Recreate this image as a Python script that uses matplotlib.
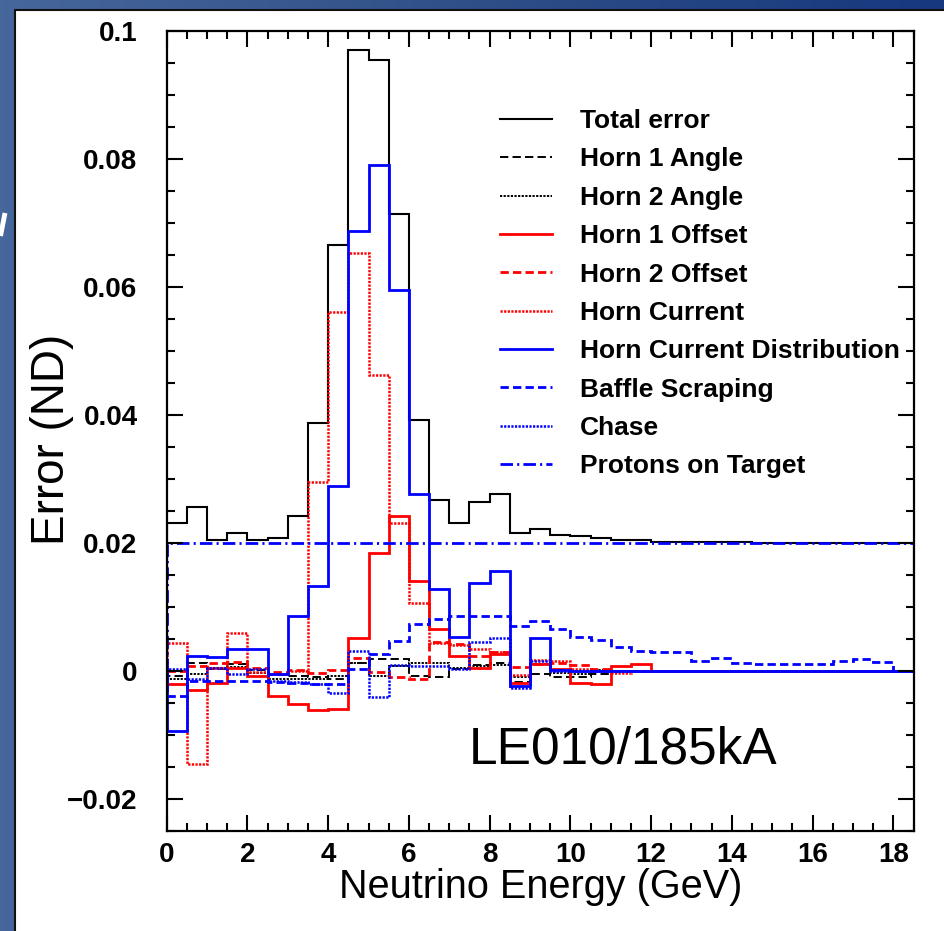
import numpy as np
import matplotlib
matplotlib.use('Agg')
import matplotlib.pyplot as plt
from matplotlib.ticker import MultipleLocator, FixedLocator, FixedFormatter
from matplotlib.colors import LinearSegmentedColormap

plt.rcParams['font.family'] = ['Liberation Sans', 'DejaVu Sans']
plt.rcParams['lines.scale_dashes'] = False

# 0.5 GeV bins, 0 - 18.5 GeV
bin_edges = np.arange(0, 18.51, 0.5)

total_error = [0.0231, 0.0257, 0.0205, 0.0215, 0.0205, 0.0208, 0.0242, 0.0388, 0.0666, 0.0970,
               0.0954, 0.0714, 0.0392, 0.0267, 0.0231, 0.0264, 0.0276, 0.0216, 0.0222, 0.0213,
               0.0211, 0.0208, 0.0204, 0.0204, 0.0201, 0.0201, 0.0201, 0.0201, 0.0201, 0.0200,
               0.0200, 0.0200, 0.0200, 0.0200, 0.0200, 0.0200, 0.0200]
horn1_angle = [-0.0008, 0.0013, 0.0003, 0.0011, 0.0002, -0.0006, -0.0008, -0.0010, -0.0012, 0.0012,
               0.0019, 0.0019, -0.0008, -0.0010, 0.0003, 0.0009, 0.0013, -0.0017, -0.0005, -0.0010,
               -0.0010, -0.0004, 0.0, 0.0, 0.0, 0.0, 0.0, 0.0, 0.0, 0.0,
               0.0, 0.0, 0.0, 0.0, 0.0, 0.0, 0.0]
horn2_angle = [-0.0012, -0.0005, 0.0004, 0.0006, -0.0003, -0.0012, -0.0013, -0.0012, -0.0008, 0.0013,
               -0.0008, 0.0008, 0.0013, 0.0012, 0.0004, 0.0008, 0.0010, -0.0010, 0.0011, -0.0003,
               -0.0005, 0.0002, 0.0, 0.0, 0.0, 0.0, 0.0, 0.0, 0.0, 0.0,
               0.0, 0.0, 0.0, 0.0, 0.0, 0.0, 0.0]
horn1_offset = [-0.0020, -0.0029, -0.0018, 0.0004, -0.0008, -0.0039, -0.0052, -0.0061, -0.0059, 0.0052,
                0.0184, 0.0242, 0.0141, 0.0066, 0.0024, 0.0004, 0.0027, -0.0018, 0.0011, 0.0003,
                -0.0018, -0.0020, 0.0008, 0.0011, 0.0, 0.0, 0.0, 0.0, 0.0, 0.0,
                0.0, 0.0, 0.0, 0.0, 0.0, 0.0, 0.0]
horn2_offset = [0.0000, 0.0008, 0.0012, 0.0014, 0.0004, -0.0002, 0.0002, -0.0003, 0.0001, 0.0021,
                -0.0001, -0.0010, -0.0013, 0.0045, 0.0042, 0.0024, 0.0029, 0.0006, 0.0011, 0.0013,
                0.0009, 0.0003, 0.0, 0.0, 0.0, 0.0, 0.0, 0.0, 0.0, 0.0,
                0.0, 0.0, 0.0, 0.0, 0.0, 0.0, 0.0]
horn_current = [0.0043, -0.0146, 0.0005, 0.0059, -0.0001, -0.0005, 0.0000, 0.0295, 0.0561, 0.0653,
                0.0462, 0.0231, 0.0107, 0.0043, 0.0040, 0.0034, 0.0030, -0.0006, 0.0017, 0.0015,
                0.0003, 0.0000, -0.0003, 0.0, 0.0, 0.0, 0.0, 0.0, 0.0, 0.0,
                0.0, 0.0, 0.0, 0.0, 0.0, 0.0, 0.0]
horn_current_dist = [-0.0093, 0.0024, 0.0022, 0.0035, 0.0035, -0.0005, 0.0086, 0.0133, 0.0289, 0.0688,
                     0.0791, 0.0595, 0.0277, 0.0128, 0.0053, 0.0137, 0.0157, -0.0024, 0.0051, 0.0001,
                     0.0, 0.0, 0.0, 0.0, 0.0, 0.0, 0.0, 0.0, 0.0, 0.0,
                     0.0, 0.0, 0.0, 0.0, 0.0, 0.0, 0.0]
baffle_scraping = [-0.0039, -0.0015, -0.0015, -0.0016, -0.0016, -0.0017, -0.0018, -0.0020, -0.0020, 0.0003,
                   0.0026, 0.0047, 0.0073, 0.0082, 0.0086, 0.0086, 0.0086, 0.0070, 0.0078, 0.0066,
                   0.0053, 0.0048, 0.0037, 0.0031, 0.0029, 0.0029, 0.0016, 0.0020, 0.0013, 0.0011,
                   0.0011, 0.0011, 0.0011, 0.0015, 0.0018, 0.0014, 0.0]
chase = [0.0003, -0.0012, 0.0004, -0.0005, 0.0003, -0.0016, -0.0017, -0.0021, -0.0035, 0.0031,
         -0.0041, 0.0010, 0.0008, 0.0008, 0.0003, 0.0045, 0.0051, -0.0026, 0.0016, 0.0000,
         0.0, 0.0, 0.0, 0.0, 0.0, 0.0, 0.0, 0.0, 0.0, 0.0,
         0.0, 0.0, 0.0, 0.0, 0.0, 0.0, 0.0]
protons_on_target = [0.02, 0.02, 0.02, 0.02, 0.02, 0.02, 0.02, 0.02, 0.02, 0.02,
                     0.02, 0.02, 0.02, 0.02, 0.02, 0.02, 0.02, 0.02, 0.02, 0.02,
                     0.02, 0.02, 0.02, 0.02, 0.02, 0.02, 0.02, 0.02, 0.02, 0.02,
                     0.02, 0.02, 0.02, 0.02, 0.02, 0.02, 0.02]

ytick_vals = [-0.02, 0, 0.02, 0.04, 0.06, 0.08, 0.1]
ytick_labels = ['\u22120.02', '0', '0.02', '0.04', '0.06', '0.08', '0.1']

dashed = (0, (6, 3))
dotted = (0, (1.6, 1.0))
dashdot = (0, (9, 3, 1.5, 3))

series = [
    ('Total error', total_error, 'black', 1.5, 'solid'),
    ('Horn 1 Angle', horn1_angle, 'black', 1.4, dashed),
    ('Horn 2 Angle', horn2_angle, 'black', 1.4, dotted),
    ('Horn 1 Offset', horn1_offset, '#ff0000', 2.0, 'solid'),
    ('Horn 2 Offset', horn2_offset, '#ff0000', 2.0, dashed),
    ('Horn Current', horn_current, '#ff0000', 1.8, dotted),
    ('Horn Current Distribution', horn_current_dist, '#0000ff', 2.0, 'solid'),
    ('Baffle Scraping', baffle_scraping, '#0000ff', 2.0, dashed),
    ('Chase', chase, '#0000ff', 1.8, dotted),
    ('Protons on Target', protons_on_target, '#0000ff', 2.0, dashdot),
]

W, H = 944, 931
fig = plt.figure(figsize=(W / 100, H / 100), dpi=100)
fig.patch.set_facecolor('#2a4a86')

# slide background: blue gradient with the white plot sheet on top
bg = fig.add_axes([0, 0, 1, 1], zorder=-10)
grad = np.linspace(0, 1, 256).reshape(1, -1)
cmap = LinearSegmentedColormap.from_list('slide', ['#46679b', '#2f4f88', '#16387e'])
bg.imshow(grad, aspect='auto', cmap=cmap, extent=[0, 1, 0, 1])
bg.add_patch(plt.Rectangle((14.5 / W, -0.5), 2, 1.5 - 9.5 / H, facecolor='white',
                           edgecolor='#111111', linewidth=1.5))
# bit of the slide title peeking in at the left edge
bg.plot([0.5 / W, 5 / W], [1 - 236 / H, 1 - 213 / H], color='white', linewidth=3.5,
        solid_capstyle='butt')
bg.set_xlim(0, 1)
bg.set_ylim(0, 1)
bg.axis('off')

ax = fig.add_axes([166.7 / W, 1 - 831 / H, (913.5 - 166.7) / W, 800 / H])
ax.set_facecolor('white')

for label, vals, color, lw, ls in series:
    ax.stairs(vals, bin_edges, baseline=0, fill=False, color=color,
              linewidth=lw, linestyle=ls, label=label)

ax.set_xlim(0, 18.5)
ax.set_ylim(-0.025, 0.1)

ax.xaxis.set_major_locator(MultipleLocator(2))
ax.xaxis.set_minor_locator(MultipleLocator(0.5))
ax.yaxis.set_major_locator(FixedLocator(ytick_vals))
ax.yaxis.set_major_formatter(FixedFormatter(ytick_labels))
ax.yaxis.set_minor_locator(MultipleLocator(0.005))
ax.tick_params(which='both', direction='in', top=True, right=True, width=1.5)
ax.tick_params(which='major', length=11.5)
ax.tick_params(which='minor', length=5.5)
ax.tick_params(axis='x', which='major', labelsize=20, pad=8)
ax.tick_params(axis='y', which='major', labelsize=20, pad=21)
for t in ax.get_xticklabels() + ax.get_yticklabels():
    t.set_fontweight('bold')
for s in ax.spines.values():
    s.set_linewidth(1.6)

fig.text(541 / W, 1 - 887 / H, 'Neutrino Energy (GeV)', fontsize=28.5,
         ha='center', va='center')
fig.text(52 / W, 1 - 439 / H, 'Error (ND)', fontsize=33, rotation=90,
         ha='center', va='center')

ax.text(11.3, -0.0124, 'LE010/185kA', fontsize=37, ha='center', va='center')

leg = ax.legend(loc='upper left', bbox_to_anchor=(500 / W, 1 - 109 / H),
                bbox_transform=fig.transFigure, frameon=False,
                prop={'size': 19, 'weight': 'bold'}, handlelength=1.97,
                handletextpad=1.05, labelspacing=0.545, borderpad=0,
                borderaxespad=0)

fig.savefig('out.png', dpi=100, facecolor=fig.get_facecolor())
